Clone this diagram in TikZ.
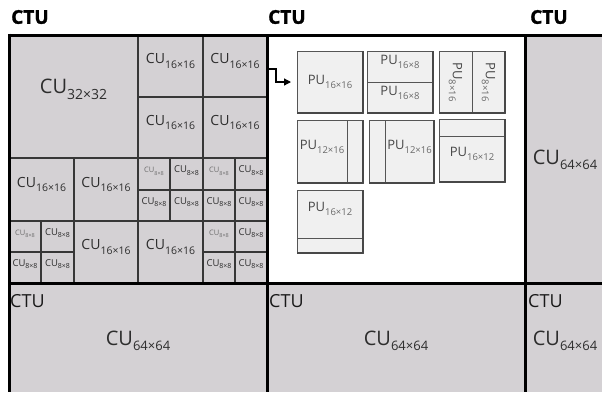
\documentclass[tikz,border=0pt]{standalone}
\usepackage{fontspec}
\setmainfont{Open Sans}
\newfontfamily\heavyfont{Open Sans}[BoldFeatures={FakeBold=1.5}]
\usetikzlibrary{fit,arrows.meta}
\definecolor{gfill}{RGB}{212,209,212}
\definecolor{gline}{RGB}{55,55,55}
\definecolor{pufill}{RGB}{240,240,240}
\definecolor{puline}{RGB}{85,85,85}
\definecolor{txt}{RGB}{45,45,45}
\definecolor{putxt}{RGB}{70,70,70}
\definecolor{pusub}{RGB}{105,105,105}
\definecolor{lighttxt}{RGB}{110,110,110}
\newcommand{\lab}[4]{{\fontsize{#3}{#3}\selectfont #1}{\fontsize{#4}{#4}\selectfont\raisebox{-.42em}{#2}}}
\newcommand{\plab}[1]{{\fontsize{13}{13}\selectfont PU}{\fontsize{9.5}{9.5}\selectfont\color{pusub}\raisebox{-.42em}{#1}}}
\begin{document}
\begin{tikzpicture}[x=1pt,y=-1pt,
  cell/.style={draw=gline, line width=1.1pt, inner sep=0pt, outer sep=0pt, text=txt},
  region/.style={inner sep=0pt, outer sep=0pt, fill=gfill},
  ctuline/.style={line width=3pt, black},
  ctulab/.style={font=\heavyfont\fontsize{19}{19}\selectfont\bfseries, text=black, inner sep=0pt, anchor=west},
  ctulab2/.style={font=\fontsize{18}{18}\selectfont, text=black!90, inner sep=0pt, anchor=west},
  bigcu/.style={inner sep=0pt, text=txt},
  pubox/.style={draw=puline, line width=1pt, fill=pufill, inner sep=0pt, outer sep=0pt},
  pupart/.style={draw=puline, line width=0.9pt, inner sep=0pt, outer sep=0pt, text=putxt},
  shadowb/.style={line width=2.4pt, draw=puline!85!black},
  shadowr/.style={line width=1.6pt, draw=puline!85!black},
  link/.style={line width=1.2pt, black, -{Triangle[length=7pt,width=7pt]}, shorten >=6pt}
]
\useasboundingbox (0,0) rectangle (602,392);
\fill[white] (0,0) rectangle (602,392);
% regions
\node[region, fit={(9,35) (267,283)}] (ctuA) {};
\node[fill=white, inner sep=0pt, outer sep=0pt, fit={(267,35) (525,283)}] (ctuB) {};
\node[region, fit={(525,35) (602,283)}] (ctuC) {};
\node[region, fit={(9,283) (267,392)}] (ctuD) {};
\node[region, fit={(267,283) (525,392)}] (ctuE) {};
\node[region, fit={(525,283) (602,392)}] (ctuF) {};
% top labels
\node[ctulab] (t1) at (11,17) {CTU};
\node[ctulab] (t2) at (268,17) {CTU};
\node[ctulab] (t3) at (530,17) {CTU};
% left CTU cells
\node[cell, fit={(9,35) (138,158)}] (c32) {\lab{CU}{32×32}{20}{14}};
\node[cell, fit={(138,35) (203,97)}] (c16a) {\lab{CU}{16×16}{14}{10.5}};
\node[cell, fit={(203,35) (267,97)}] (c16b) {\lab{CU}{16×16}{14}{10.5}};
\node[cell, fit={(138,97) (203,158)}] (c16c) {\lab{CU}{16×16}{14}{10.5}};
\node[cell, fit={(203,97) (267,158)}] (c16d) {\lab{CU}{16×16}{14}{10.5}};
\node[cell, fit={(9,158) (74,221)}] (c16e) {\lab{CU}{16×16}{14}{10.5}};
\node[cell, fit={(74,158) (138,221)}] (c16f) {\lab{CU}{16×16}{14}{10.5}};
\node[cell, fit={(74,221) (138,283)}] (c16g) {\lab{CU}{16×16}{14}{10.5}};
\node[cell, fit={(138,221) (203,283)}] (c16h) {\lab{CU}{16×16}{14}{10.5}};
% 8x8 cells
\node[cell, text=lighttxt, fit={(138,158) (170,190)}] (e1) {\lab{CU}{8×8}{7.5}{5.5}};
\node[cell, fit={(170,158) (203,190)}] (e2) {\lab{CU}{8×8}{9.5}{7}};
\node[cell, text=lighttxt, fit={(203,158) (235,190)}] (e3) {\lab{CU}{8×8}{7.5}{5.5}};
\node[cell, fit={(235,158) (267,190)}] (e4) {\lab{CU}{8×8}{9.5}{7}};
\node[cell, fit={(138,190) (170,221)}] (e5) {\lab{CU}{8×8}{9.5}{7}};
\node[cell, fit={(170,190) (203,221)}] (e6) {\lab{CU}{8×8}{9.5}{7}};
\node[cell, fit={(203,190) (235,221)}] (e7) {\lab{CU}{8×8}{9.5}{7}};
\node[cell, fit={(235,190) (267,221)}] (e8) {\lab{CU}{8×8}{9.5}{7}};
\node[cell, text=lighttxt, fit={(9,221) (41,252)}] (f1) {\lab{CU}{8×8}{7.5}{5.5}};
\node[cell, fit={(41,221) (74,252)}] (f2) {\lab{CU}{8×8}{9.5}{7}};
\node[cell, fit={(9,252) (41,283)}] (f3) {\lab{CU}{8×8}{9.5}{7}};
\node[cell, fit={(41,252) (74,283)}] (f4) {\lab{CU}{8×8}{9.5}{7}};
\node[cell, text=lighttxt, fit={(203,221) (235,252)}] (g1) {\lab{CU}{8×8}{7.5}{5.5}};
\node[cell, fit={(235,221) (267,252)}] (g2) {\lab{CU}{8×8}{9.5}{7}};
\node[cell, fit={(203,252) (235,283)}] (g3) {\lab{CU}{8×8}{9.5}{7}};
\node[cell, fit={(235,252) (267,283)}] (g4) {\lab{CU}{8×8}{9.5}{7}};
% CTU borders
\draw[ctuline] (9,35) -- (602,35);
\draw[ctuline] (9,283) -- (602,283);
\draw[ctuline] (9,33.5) -- (9,392);
\draw[ctuline] (267,35) -- (267,392);
\draw[ctuline] (525,35) -- (525,392);
% right and bottom CTUs
\node[bigcu] (r64) at (565,160) {\lab{CU}{64×64}{20}{13}};
\node[ctulab2] (b1) at (10,301) {CTU};
\node[bigcu] (b1cu) at (138,341) {\lab{CU}{64×64}{20}{13}};
\node[ctulab2] (b2) at (269,301) {CTU};
\node[bigcu] (b2cu) at (396,341) {\lab{CU}{64×64}{20}{13}};
\node[ctulab2] (b3) at (528,301) {CTU};
\node[bigcu] (b3cu) at (565,341) {\lab{CU}{64×64}{20}{13}};
% PU boxes
\node[pubox, fit={(297,51) (363,113)}] (pu1) {};
\node[text=putxt, inner sep=0pt] (pu1t) at (pu1.center) {\plab{16×16}};
\node[pubox, fit={(367,51) (433,113)}] (pu2) {};
\node[pupart, fit={(367,51) (433,82)}] (pu2a) {\plab{16×8}};
\node[pupart, fit={(367,82) (433,113)}] (pu2b) {\plab{16×8}};
\node[pubox, fit={(439,51) (505,113)}] (pu3) {};
\node[pupart, fit={(439,51) (472,113)}] (pu3a) {};
\node[pupart, fit={(472,51) (505,113)}] (pu3b) {};
\node[rotate=-90, text=putxt, inner sep=0pt] (pu3at) at (pu3a.center) {\plab{8×16}};
\node[rotate=-90, text=putxt, inner sep=0pt] (pu3bt) at (pu3b.center) {\plab{8×16}};
\node[pubox, fit={(297,120) (363,183)}] (pu4) {};
\node[pupart, fit={(297,120) (347,183)}] (pu4a) {\plab{12×16}};
\node[pubox, fit={(369,120) (434,183)}] (pu5) {};
\node[pupart, fit={(385,120) (434,183)}] (pu5a) {\plab{12×16}};
\node[pubox, fit={(439,119) (505,182)}] (pu6) {};
\node[pupart, fit={(439,136) (505,182)}] (pu6a) {\plab{16×12}};
\node[pubox, fit={(297,190) (363,253)}] (pu7) {};
\node[pupart, fit={(297,190) (363,238)}] (pu7a) {\plab{16×12}};
\foreach \n in {pu1,pu2,pu3,pu4,pu5,pu6,pu7}{
  \draw[shadowb] (\n.south west) -- (\n.south east);
  \draw[shadowr] (\n.north east) -- (\n.south east);
}
% connector
\draw[link] ([yshift=-3pt]c16b.east) -- ++(9,0) |- (pu1.west);
\end{tikzpicture}
\end{document}
